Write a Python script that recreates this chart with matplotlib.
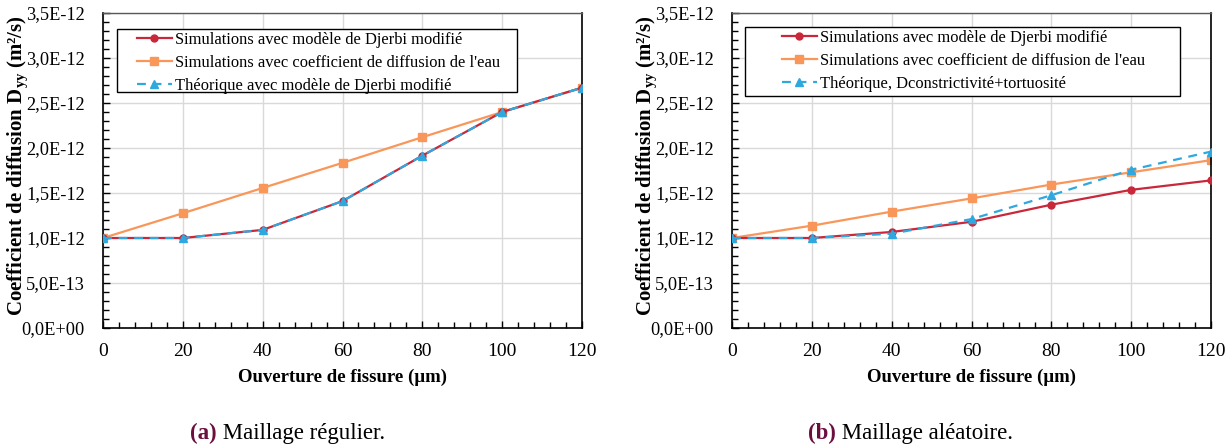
import matplotlib
matplotlib.use("Agg")
import matplotlib.pyplot as plt
from matplotlib.ticker import FuncFormatter, MultipleLocator
from matplotlib.patches import Rectangle
from matplotlib import font_manager

names = {f.name for f in font_manager.fontManager.ttflist}
serif = next((n for n in ['Liberation Serif', 'Times New Roman', 'Nimbus Roman', 'DejaVu Serif'] if n in names), 'DejaVu Serif')
plt.rcParams['font.family'] = [serif, 'DejaVu Serif']
plt.rcParams['mathtext.fontset'] = 'custom'
plt.rcParams['mathtext.rm'] = serif
plt.rcParams['mathtext.bf'] = serif + ':bold'
plt.rcParams['mathtext.it'] = serif + ':italic'

# ---- data ----
ouverture = [0, 20, 40, 60, 80, 100, 120]

# (a) Maillage régulier
a_djerbi = [1.00e-12, 1.00e-12, 1.09e-12, 1.41e-12, 1.915e-12, 2.40e-12, 2.67e-12]
a_eau = [1.00e-12, 1.275e-12, 1.556e-12, 1.835e-12, 2.12e-12, 2.40e-12, 2.67e-12]
a_theo = [1.00e-12, 1.00e-12, 1.09e-12, 1.41e-12, 1.915e-12, 2.40e-12, 2.67e-12]

# (b) Maillage aléatoire
b_djerbi = [1.00e-12, 1.00e-12, 1.067e-12, 1.18e-12, 1.37e-12, 1.535e-12, 1.64e-12]
b_eau = [1.00e-12, 1.137e-12, 1.293e-12, 1.44e-12, 1.594e-12, 1.73e-12, 1.865e-12]
b_theo = [1.00e-12, 1.00e-12, 1.048e-12, 1.21e-12, 1.475e-12, 1.758e-12, 1.96e-12]

labels_a = ["Simulations avec modèle de Djerbi modifié",
            "Simulations avec coefficient de diffusion de l'eau",
            "Théorique avec modèle de Djerbi modifié"]
labels_b = ["Simulations avec modèle de Djerbi modifié",
            "Simulations avec coefficient de diffusion de l'eau",
            "Théorique, Dconstrictivité+tortuosité"]

xlabel = "Ouverture de fissure (µm)"
ylabel = r"Coefficient de diffusion D$_{\mathbf{yy}}$ (m²/s)"
captions = [("(a)", " Maillage régulier."), ("(b)", " Maillage aléatoire.")]

RED = "#C8283A"
ORANGE = "#F9965A"
BLUE = "#2EA8DF"

W, H = 1232, 448
fig = plt.figure(figsize=(W / 100, H / 100), dpi=100)

def fmt(v, pos):
    s = "%.1E" % v
    return s.replace('.', ',')

axes_px = [(103, 13, 582, 328), (732, 13, 1211, 328)]
legend_px = [(117, 29, 517, 92), (745, 27, 1180, 96)]
legend_handle_x = [137, 782]
datasets = [(a_djerbi, a_eau, a_theo, labels_a), (b_djerbi, b_eau, b_theo, labels_b)]
caption_pos = [(190, 433), (808, 433)]

renderer = fig.canvas.get_renderer()

for i, ((x0, y0, x1, y1), (dj, eau, th, labs)) in enumerate(zip(axes_px, datasets)):
    ax = fig.add_axes([x0 / W, 1 - y1 / H, (x1 - x0) / W, (y1 - y0) / H])
    l1, = ax.plot(ouverture, dj, color=RED, lw=1.6, marker='o', ms=5, label=labs[0], zorder=3)
    l2, = ax.plot(ouverture, eau, color=ORANGE, lw=1.6, marker='s', ms=5.5, label=labs[1], zorder=2)
    l3, = ax.plot(ouverture, th, color=BLUE, lw=1.6, ls=(0, (4, 3)), marker='^', ms=6, label=labs[2], zorder=4)
    ax.set_xlim(0, 120)
    ax.set_ylim(0, 3.5e-12)
    ax.xaxis.set_major_locator(MultipleLocator(20))
    ax.xaxis.set_minor_locator(MultipleLocator(4))
    ax.yaxis.set_major_locator(MultipleLocator(0.5e-12))
    ax.yaxis.set_minor_locator(MultipleLocator(0.1e-12))
    ax.yaxis.set_major_formatter(FuncFormatter(fmt))
    ax.yaxis.get_offset_text().set_visible(False)
    ax.grid(True, which='major', color='#D9D9D9', lw=1.0)
    ax.set_axisbelow(True)
    ax.tick_params(which='major', direction='in', length=5, width=1.0, labelsize=13.2, colors='#000000')
    ax.tick_params(which='minor', direction='in', length=4, width=1.0)
    ax.tick_params(axis='x', pad=11, labelsize=14)
    ax.tick_params(axis='y', pad=13)
    for s in ['left', 'bottom', 'right']:
        ax.spines[s].set_color('#000000')
        ax.spines[s].set_linewidth(1.2)
    ax.spines['top'].set_color('#595959')
    ax.spines['top'].set_linewidth(1.0)
    ax.set_xlabel(xlabel, fontsize=13.5, fontweight='bold', labelpad=6)
    ax.set_ylabel(ylabel, fontsize=15.0, fontweight='bold')
    ax.yaxis.set_label_coords(-0.152, 0.515)

    # legend frame
    lx0, ly0, lx1, ly1 = legend_px[i]
    rect = Rectangle((lx0 / W, 1 - ly1 / H), (lx1 - lx0) / W, (ly1 - ly0) / H,
                     transform=fig.transFigure, facecolor='white',
                     edgecolor='#000000', lw=1.0, zorder=8, clip_on=False)
    ax.add_patch(rect)
    leg = ax.legend(handles=[l1, l2, l3], loc='upper left', frameon=False,
                    bbox_to_anchor=((legend_handle_x[i] - x0) / (x1 - x0),
                                    1 - (ly0 - y0 + 3) / (y1 - y0)),
                    borderaxespad=0, borderpad=0.0, fontsize=11.9, handlelength=2.1,
                    handletextpad=0.2, labelspacing=0.42)
    leg.set_zorder(10)

    cx, cy = caption_pos[i]
    t1 = fig.text(cx / W, 1 - cy / H, captions[i][0], fontsize=16.5, fontweight='bold',
                  color='#6B0F3F', ha='left', va='center')
    bb = t1.get_window_extent(renderer=renderer)
    fig.text(bb.x1 / W, 1 - cy / H, captions[i][1], fontsize=16.5, color='#000000',
             ha='left', va='center')

fig.savefig("out.png", dpi=100)
